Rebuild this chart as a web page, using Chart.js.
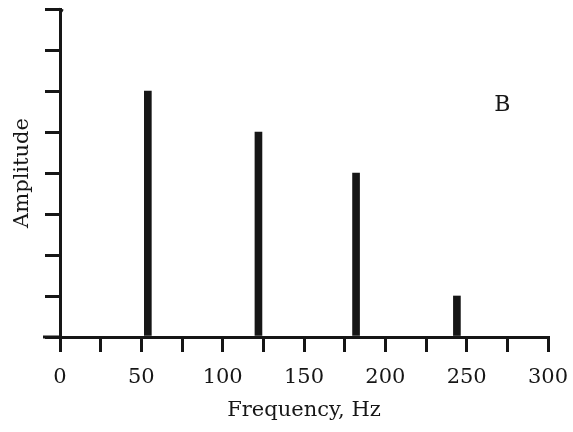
<!DOCTYPE html>
<html>
<head>
<meta charset="utf-8">
<script src="https://cdn.jsdelivr.net/npm/chart.js@4/dist/chart.umd.min.js"></script>
<style>
    html, body { margin: 0; padding: 0; background: #fff; }
    #wrap { width: 573px; height: 432px; }
</style>
</head>
<body>
<div id="wrap"><canvas id="chartCanvas"></canvas></div>
<script>
// Data spektrum
const frequencies = [54, 122, 182, 244];
const amplitudes = [6, 5, 4, 1];
const xLabelStep = 50;
const panelLabel = 'B';

const ink = '#161616';
const serif = "'DejaVu Serif', serif";

// tambahan: garis sumbu x sedikit menjorok ke kiri + label panel
const extras = {
    id: 'extras',
    afterDraw(chart) {
        const ctx = chart.ctx;
        const area = chart.chartArea;
        const x = chart.scales.x, y = chart.scales.y;
        ctx.save();
        ctx.strokeStyle = ink;
        ctx.lineWidth = 3;
        ctx.beginPath();
        ctx.moveTo(area.left - 17, area.bottom);
        ctx.lineTo(area.left, area.bottom);
        ctx.moveTo(area.left - 1, area.top);
        ctx.lineTo(area.left + 3, area.top + 2);
        ctx.stroke();
        ctx.fillStyle = ink;
        ctx.font = '22px ' + serif;
        ctx.textAlign = 'center';
        ctx.textBaseline = 'middle';
        ctx.fillText(panelLabel, x.getPixelForValue(272), y.getPixelForValue(5.66));
        ctx.restore();
    }
};

const ctx = document.getElementById('chartCanvas').getContext('2d');
const spectrumChart = new Chart(ctx, {
    type: 'bar',
    data: {
        datasets: [{
            data: frequencies.map((f, i) => ({ x: f, y: amplitudes[i] })),
            backgroundColor: ink,
            borderWidth: 0,
            barThickness: 7
        }]
    },
    options: {
        responsive: true,
        maintainAspectRatio: false,
        animation: false,
        layout: { padding: { left: 0, right: 25, top: 9, bottom: 0 } },
        plugins: { legend: { display: false }, tooltip: { enabled: false } },
        scales: {
            x: {
                type: 'linear',
                min: 0,
                max: 300,
                offset: false,
                grid: { offset: false, drawOnChartArea: false, drawTicks: true, tickLength: 15, color: ink, lineWidth: 3 },
                border: { display: true, color: ink, width: 3 },
                ticks: {
                    stepSize: 25,
                    color: ink,
                    font: { family: serif, size: 21 },
                    padding: 13,
                    maxRotation: 0,
                    autoSkip: false,
                    callback: v => (v % xLabelStep === 0 ? v : '')
                },
                title: {
                    display: true,
                    text: 'Frequency, Hz',
                    color: ink,
                    font: { family: serif, size: 21 },
                    padding: { top: 2, bottom: 9 }
                },
                afterFit: s => { s.height = 95; s.paddingLeft = 0; s.paddingRight = 0; }
            },
            y: {
                min: 0,
                max: 8,
                grid: { drawOnChartArea: false, drawTicks: true, tickLength: 15, color: ink, lineWidth: 3 },
                border: { display: true, color: ink, width: 3 },
                ticks: { stepSize: 1, display: false },
                title: {
                    display: true,
                    text: 'Amplitude',
                    color: ink,
                    font: { family: serif, size: 21 },
                    padding: { top: 10, bottom: 0 }
                },
                afterFit: s => { s.width = 60; s.paddingTop = 0; s.paddingBottom = 0; }
            }
        }
    },
    plugins: [extras]
});
</script>
</body>
</html>
